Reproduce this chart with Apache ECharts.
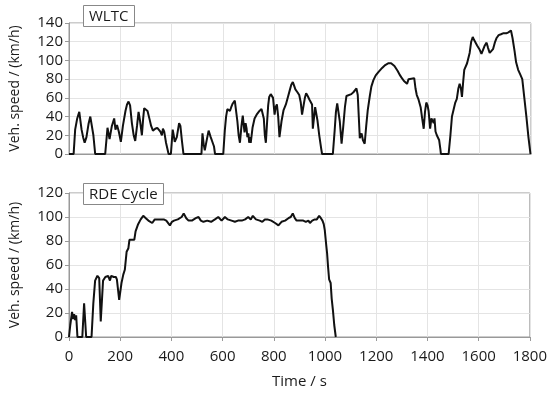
<!DOCTYPE html>
<html><head><meta charset="utf-8">
<script src="https://cdn.jsdelivr.net/npm/echarts@6/dist/echarts.min.js"></script>
<style>html,body{margin:0;padding:0;background:#fff}#c{width:550px;height:393px}</style>
</head><body><div id="c"></div>
<script>
const xTicks = [0,200,400,600,800,1000,1200,1400,1600,1800];
const wltcTitle = 'WLTC';
const rdeTitle = 'RDE Cycle';
const wltcTime = [0,18,24,32,40,49,55,61,68,76,83,88,95,102,141,150,158,167,176,181,187,194,202,210,220,226,232,238,245,252,258,265,271,277,284,289,293,300,306,314,320,327,336,344,350,356,362,366,371,378,388,397,404,408,412,420,424,429,434,440,446,516,520,525,529,536,544,552,556,560,565,569,601,607,612,617,622,627,632,638,646,650,656,661,666,672,677,681,684,688,692,695,699,702,706,708,715,723,731,742,750,754,759,763,767,772,776,780,786,791,795,801,805,810,815,820,822,828,836,845,853,860,866,872,877,882,890,897,903,908,914,919,924,930,937,943,947,950,955,959,963,968,975,983,986,1028,1035,1040,1045,1050,1055,1062,1068,1075,1081,1088,1100,1108,1114,1120,1125,1129,1133,1140,1145,1152,1158,1164,1172,1178,1186,1195,1207,1220,1232,1245,1255,1268,1280,1290,1297,1305,1317,1323,1330,1345,1350,1355,1362,1370,1376,1382,1387,1392,1397,1401,1407,1412,1417,1421,1424,1428,1433,1438,1442,1447,1449,1479,1486,1492,1499,1505,1511,1517,1522,1527,1531,1536,1540,1551,1561,1567,1573,1578,1583,1590,1599,1607,1613,1620,1627,1632,1639,1646,1652,1659,1666,1674,1683,1691,1698,1704,1712,1722,1728,1736,1742,1750,1758,1766,1774,1782,1790,1798,1800];
const wltcSpeed = [0,0,26,38,45,26,18,12,18,32,40,38,20,0,0,28,16,30,38,26,31,24,13,30,46,53,56,52,33,20,14,30,45,35,20,38,49,48,46,37,30,25,27,28,26,24,20,27,24,12,0,0,26,20,13,18,16,33,30,14,0,0,22,10,4,14,25,18,15,17,8,0,0,25,40,48,47,46,50,54,57,55,35,20,12,30,41,30,23,33,27,18,22,12,18,12,28,38,42,46,48,50,38,20,12,35,52,61,64,66,60,42,50,53,40,18,17,35,47,53,61,68,74,77,73,69,66,63,55,42,52,60,65,62,58,56,53,27,40,50,48,36,20,5,0,0,25,45,54,52,35,11,28,50,62,61,64,66,64,70,63,40,17,22,15,11,30,47,62,72,79,84,88,92,95,97,97,94,89,84,81,78,75,80,81,81,70,63,58,50,38,27,45,55,52,46,27,38,40,33,38,24,20,18,15,5,0,0,20,40,48,55,59,70,75,70,61,78,90,97,108,120,125,122,120,116,112,107,108,116,119,114,108,106,112,119,124,127,128,129,130,129,130,132,124,110,98,90,85,80,60,40,18,0,0];
const rdeTime = [0,5,12,16,20,24,28,33,52,59,67,88,95,102,111,118,124,133,142,153,160,165,175,183,187,196,205,212,218,225,232,236,255,260,270,280,290,300,310,325,335,350,370,380,394,402,410,425,440,448,458,467,480,495,506,515,525,540,555,570,583,596,609,620,635,648,660,675,688,700,710,718,730,745,755,765,775,790,805,818,830,844,857,866,874,882,889,900,915,925,935,941,950,960,968,977,984,990,995,999,1004,1008,1012,1016,1022,1026,1031,1036,1042];
const rdeSpeed = [0,10,21,15,19,14,18,0,0,28,0,0,28,47,51,49,13,47,50,51,47,51,50,50,48,31,45,52,56,71,74,81,81,88,94,98,101,99,97,95,98,98,98,97,93,96,97,98,100,103,99,97,97,99,100,97,96,97,96,98,100,97,100,98,97,96,97,97,98,100,98,101,98,97,96,98,98,97,95,93,96,97,99,100,103,99,97,97,97,96,97,95,97,98,98,101,99,97,94,89,78,70,58,48,45,32,22,10,0];

const pair = (t, v) => t.map((x, i) => [x, v[i]]);
const FONT = "'Open Sans', 'Noto Sans', sans-serif";
const TXT = '#1a1a1a';
const chart = echarts.init(document.getElementById('c'), null, {renderer: 'canvas'});
const baseY = (gi, max) => ({
  type: 'value', gridIndex: gi, min: 0, max: max, interval: 20,
  name: 'Veh. speed / (km/h)', nameLocation: 'middle', nameRotate: 90, nameGap: 47,
  nameTextStyle: {fontFamily: FONT, fontSize: 14, color: TXT},
  axisLine: {show: true, lineStyle: {color: '#999'}},
  axisTick: {show: true, length: 4, lineStyle: {color: '#999'}},
  axisLabel: {fontFamily: FONT, fontSize: 15, color: TXT, margin: 6},
  splitLine: {show: true, lineStyle: {color: '#e4e4e4'}}
});
const baseX = (gi, labels) => ({
  type: 'value', gridIndex: gi, min: xTicks[0], max: xTicks[xTicks.length - 1], interval: 200,
  axisLine: {show: true, lineStyle: {color: '#999'}},
  axisTick: {show: labels, length: 4, lineStyle: {color: '#999'}},
  axisLabel: {show: labels, fontFamily: FONT, fontSize: 15, color: TXT, margin: 12,
              formatter: v => String(v)},
  splitLine: {show: true, lineStyle: {color: '#e4e4e4'}},
  name: labels ? 'Time / s' : '', nameLocation: 'middle', nameGap: 37,
  nameTextStyle: {fontFamily: FONT, fontSize: 15, color: TXT}
});
chart.setOption({
  animation: false,
  backgroundColor: '#fff',
  title: [
    {text: wltcTitle, left: 83, top: 5, padding: [4, 6, 3, 6], borderColor: '#888', borderWidth: 1, backgroundColor: '#fff',
     textStyle: {fontFamily: FONT, fontSize: 15, fontWeight: 'normal', color: TXT}},
    {text: rdeTitle, left: 83, top: 183, padding: [4, 6, 3, 6], borderColor: '#888', borderWidth: 1, backgroundColor: '#fff',
     textStyle: {fontFamily: FONT, fontSize: 15, fontWeight: 'normal', color: TXT}}
  ],
  grid: [
    {left: 68, top: 23, width: 463, height: 131, show: true, borderColor: '#999', borderWidth: 1},
    {left: 68, top: 193, width: 463, height: 144, show: true, borderColor: '#999', borderWidth: 1}
  ],
  xAxis: [baseX(0, false), baseX(1, true)],
  yAxis: [baseY(0, 140), baseY(1, 120)],
  series: [
    {type: 'line', xAxisIndex: 0, yAxisIndex: 0, data: pair(wltcTime, wltcSpeed), showSymbol: false,
     lineStyle: {color: '#111', width: 2}, z: 3},
    {type: 'line', xAxisIndex: 1, yAxisIndex: 1, data: pair(rdeTime, rdeSpeed), showSymbol: false,
     lineStyle: {color: '#111', width: 2}, z: 3}
  ]
});
</script></body></html>
